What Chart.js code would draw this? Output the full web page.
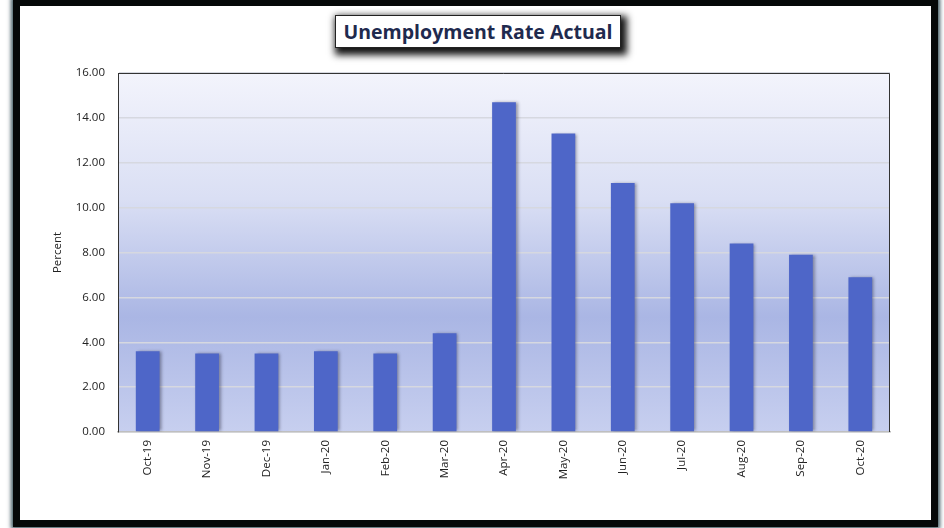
<!DOCTYPE html>
<html>
<head>
<meta charset="utf-8">
<script src="https://cdn.jsdelivr.net/npm/chart.js@4.4.0/dist/chart.umd.min.js"></script>
<style>
  html, body { margin: 0; padding: 0; background: #ffffff; }
  #wrap { position: relative; width: 944px; height: 528px; overflow: hidden; background: #ffffff; }
  #frame {
    position: absolute; left: 13px; top: -1px; width: 911px; height: 514px;
    border: 7px solid #050808; background: #ffffff;
    box-shadow: 0 0 4px 2px rgba(30, 60, 70, 0.85);
  }
  #box {
    position: absolute; left: 335px; top: 15px; width: 284px; height: 31px;
    background: #ffffff; border: 1px solid #222;
    box-shadow: 3px 4px 7px 3px rgba(0, 0, 0, 0.92);
    font-family: "Open Sans", sans-serif; font-weight: bold; font-size: 19.5px;
    color: #1f2a4e; line-height: 31px; text-align: center; white-space: nowrap;
  }
  #cv { position: absolute; left: 0; top: 0; }
</style>
</head>
<body>
<div id="wrap">
  <div id="frame"></div>
  <div id="box">Unemployment Rate Actual</div>
  <canvas id="cv" width="944" height="528"></canvas>
</div>
<script>
// Unemployment Rate Actual
const months = ['Oct-19', 'Nov-19', 'Dec-19', 'Jan-20', 'Feb-20', 'Mar-20', 'Apr-20',
  'May-20', 'Jun-20', 'Jul-20', 'Aug-20', 'Sep-20', 'Oct-20'];
const rates = [3.6, 3.5, 3.5, 3.6, 3.5, 4.4, 14.7, 13.3, 11.1, 10.2, 8.4, 7.9, 6.9];
const yTicks = [0, 2, 4, 6, 8, 10, 12, 14, 16];

// fondo degradado del area de trazado
const plotBg = {
  id: 'plotBg',
  beforeDraw(chart) {
    const { ctx, chartArea: a } = chart;
    const g = ctx.createLinearGradient(0, a.top, 0, a.bottom);
    g.addColorStop(0, '#f3f4fc');
    g.addColorStop(0.35, '#dadff4');
    g.addColorStop(0.68, '#aab6e4');
    g.addColorStop(1, '#c7cfef');
    ctx.save();
    ctx.fillStyle = g;
    ctx.fillRect(a.left, a.top, a.right - a.left, a.bottom - a.top);
    ctx.restore();
  },
  beforeDatasetsDraw(chart) {
    const ctx = chart.ctx;
    ctx.save();
    ctx.shadowColor = 'rgba(40, 40, 60, 0.45)';
    ctx.shadowBlur = 3;
    ctx.shadowOffsetX = 2;
    ctx.shadowOffsetY = 0;
  },
  afterDatasetsDraw(chart) {
    chart.ctx.restore();
  },
  afterDraw(chart) {
    const { ctx, chartArea: a } = chart;
    ctx.save();
    ctx.strokeStyle = '#333333';
    ctx.lineWidth = 1;
    ctx.beginPath();
    ctx.moveTo(a.left, a.top + 0.5);
    ctx.lineTo(a.right - 0.5, a.top + 0.5);
    ctx.lineTo(a.right - 0.5, a.bottom);
    ctx.stroke();
    ctx.restore();
  }
};

const ctx = document.getElementById('cv').getContext('2d');

const grafico = new Chart(ctx, {
  type: 'bar',
  data: {
    labels: months,
    datasets: [{
      label: 'Unemployment Rate',
      data: rates,
      backgroundColor: '#4e66c8',
      borderWidth: 0,
      barPercentage: 0.8,
      categoryPercentage: 0.5
    }]
  },
  options: {
    responsive: false,
    animation: false,
    layout: { padding: { left: 51, right: 54, top: 73, bottom: 28 } },
    plugins: {
      legend: { display: false },
      tooltip: { enabled: false }
    },
    scales: {
      x: {
        grid: { display: false, drawTicks: false },
        border: { display: true, color: '#bfbfbf', width: 1.5 },
        ticks: {
          color: '#222',
          font: { family: 'Open Sans', size: 11.5 },
          maxRotation: 90, minRotation: 90,
          padding: 8
        },
        afterFit(scale) { scale.height = 68; }
      },
      y: {
        min: 0, max: 16,
        afterBuildTicks(scale) { scale.ticks = yTicks.map(v => ({ value: v })); },
        grid: { color: '#d6d8e0', lineWidth: 1.5, drawTicks: false },
        border: { display: true, color: '#333333', width: 1 },
        ticks: {
          color: '#222',
          font: { family: 'Open Sans', size: 11.5 },
          padding: 13,
          callback: v => v.toFixed(2)
        },
        title: {
          display: true, text: 'Percent', color: '#222',
          font: { family: 'Open Sans', size: 11.5 },
          padding: { top: 0, bottom: 6 }
        },
        afterFit(scale) { scale.width = 67; }
      }
    }
  },
  plugins: [plotBg]
});
</script>
</body>
</html>
